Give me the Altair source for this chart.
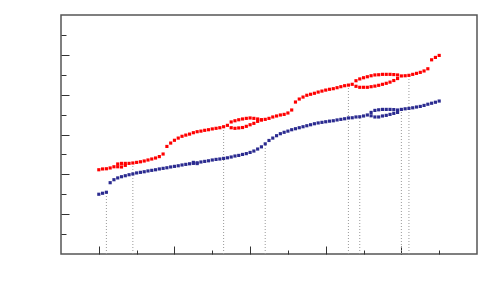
import altair as alt
import pandas as pd

# x positions (wave-vector-like axis), 1.0 .. 10.0
x_grid = [1.0, 1.1, 1.2, 1.3, 1.4, 1.5, 1.6, 1.7, 1.8, 1.9,
          2.0, 2.1, 2.2, 2.3, 2.4, 2.5, 2.6, 2.7, 2.8, 2.9,
          3.0, 3.1, 3.2, 3.3, 3.4, 3.5, 3.6, 3.7, 3.8, 3.9,
          4.0, 4.1, 4.2, 4.3, 4.4, 4.5, 4.6, 4.7, 4.8, 4.9,
          5.0, 5.1, 5.2, 5.3, 5.4, 5.5, 5.6, 5.7, 5.8, 5.9,
          6.0, 6.1, 6.2, 6.3, 6.4, 6.5, 6.6, 6.7, 6.8, 6.9,
          7.0, 7.1, 7.2, 7.3, 7.4, 7.5, 7.6, 7.7, 7.8, 7.9,
          8.0, 8.1, 8.2, 8.3, 8.4, 8.5, 8.6, 8.7, 8.8, 8.9,
          9.0, 9.1, 9.2, 9.3, 9.4, 9.5, 9.6, 9.7, 9.8, 9.9, 10.0]

red_y = [4.23, 4.27, 4.28, 4.32, 4.38, 4.52, 4.55, 4.55, 4.55, 4.57,
         4.60, 4.63, 4.67, 4.72, 4.77, 4.82, 4.89, 5.02, 5.40, 5.57,
         5.71, 5.82, 5.91, 5.97, 6.02, 6.09, 6.14, 6.17, 6.21, 6.24,
         6.28, 6.31, 6.34, 6.39, 6.46, 6.63, 6.69, 6.74, 6.78, 6.81,
         6.83, 6.81, 6.78, 6.74, 6.76, 6.81, 6.88, 6.93, 6.98, 7.01,
         7.08, 7.23, 7.63, 7.78, 7.88, 7.97, 8.02, 8.07, 8.13, 8.18,
         8.23, 8.27, 8.30, 8.35, 8.40, 8.45, 8.48, 8.52, 8.70, 8.79,
         8.85, 8.90, 8.95, 8.99, 9.00, 9.02, 9.02, 9.02, 9.01, 8.99,
         8.94, 8.95, 8.97, 9.02, 9.07, 9.12, 9.19, 9.30, 9.75, 9.87, 9.97]

red_loop_x = [1.5, 1.6, 1.7,
              4.5, 4.6, 4.7, 4.8, 4.9, 5.0, 5.1, 5.2, 5.3,
              7.8, 7.9, 8.0, 8.1, 8.2, 8.3, 8.4, 8.5, 8.6, 8.7, 8.8, 8.9]
red_loop_y = [4.38, 4.37, 4.45,
              6.34, 6.31, 6.33, 6.35, 6.41, 6.49, 6.56, 6.66, 6.73,
              8.42, 8.37, 8.37, 8.37, 8.40, 8.43, 8.47, 8.52, 8.57, 8.63, 8.71, 8.81]

blue_y = [3.00, 3.05, 3.10, 3.58, 3.73, 3.82, 3.88, 3.93, 3.98, 4.02,
          4.07, 4.10, 4.13, 4.17, 4.20, 4.23, 4.27, 4.30, 4.33, 4.37,
          4.40, 4.43, 4.47, 4.50, 4.53, 4.55, 4.58, 4.62, 4.65, 4.68,
          4.72, 4.75, 4.77, 4.80, 4.83, 4.87, 4.92, 4.95, 5.00, 5.04,
          5.10, 5.17, 5.27, 5.38, 5.53, 5.70, 5.82, 5.94, 6.04, 6.11,
          6.17, 6.24, 6.29, 6.34, 6.39, 6.44, 6.49, 6.54, 6.58, 6.61,
          6.64, 6.67, 6.69, 6.73, 6.76, 6.79, 6.83, 6.84, 6.88, 6.89,
          6.93, 6.98, 7.11, 7.21, 7.24, 7.26, 7.26, 7.26, 7.25, 7.23,
          7.26, 7.29, 7.31, 7.34, 7.38, 7.41, 7.46, 7.52, 7.57, 7.62, 7.68]

blue_loop_x = [3.5, 3.6, 8.2, 8.3, 8.4, 8.5, 8.6, 8.7, 8.8, 8.9]
blue_loop_y = [4.60, 4.54, 6.94, 6.88, 6.88, 6.93, 6.96, 7.01, 7.06, 7.11]

drop_x = [1.2, 1.9, 4.3, 5.4, 7.6, 7.9, 9.0, 9.2]
drop_top = [3.10, 4.57, 6.39, 5.53, 8.48, 6.89, 7.26, 8.97]

x_major = [1, 3, 5, 7, 9]
x_minor = [2, 4, 6, 8, 10]
y_major = [2, 4, 6, 8, 10]
y_minor = [1, 3, 5, 7, 9, 11]

W, H = 416, 239

pts = pd.DataFrame({
    "x": x_grid + red_loop_x + x_grid + blue_loop_x,
    "y": red_y + red_loop_y + blue_y + blue_loop_y,
    "s": ["red"] * (len(x_grid) + len(red_loop_x)) + ["blue"] * (len(x_grid) + len(blue_loop_x)),
})
drops = pd.DataFrame({"x": drop_x, "top": drop_top, "base": [0.0] * len(drop_x)})

xs = alt.Scale(domain=[0, 11], nice=False, zero=False)
ys = alt.Scale(domain=[0, 12], nice=False, zero=False)


def xaxis(vals, size):
    return alt.Axis(orient="top", offset=-H, values=vals, tickSize=size, labels=False,
                    domain=False, grid=False, title=None, tickColor="#333", tickWidth=1)


def yaxis(vals, size):
    return alt.Axis(orient="right", offset=-W, values=vals, tickSize=size, labels=False,
                    domain=False, grid=False, title=None, tickColor="#333", tickWidth=1)


points = alt.Chart(pts).mark_square(size=10, opacity=1).encode(
    x=alt.X("x:Q", scale=xs, axis=xaxis(x_major, 8)),
    y=alt.Y("y:Q", scale=ys, axis=yaxis(y_major, 8)),
    color=alt.Color("s:N", scale=alt.Scale(domain=["red", "blue"], range=["#ff0000", "#2b2b90"]), legend=None),
)

rules = alt.Chart(drops).mark_rule(color="#999999", strokeWidth=1, strokeDash=[1, 2]).encode(
    x=alt.X("x:Q", scale=xs, axis=xaxis(x_minor, 4)),
    y=alt.Y("base:Q", scale=ys, axis=yaxis(y_minor, 5)),
    y2="top:Q",
)

chart = alt.layer(rules, points).resolve_axis(x="independent", y="independent").properties(
    width=W, height=H,
    autosize=alt.AutoSizeParams(type="none"),
    padding={"left": 53, "top": 7, "right": 10, "bottom": 30},
).configure_view(stroke="#555555", strokeWidth=1.5)

chart.save("out.html", embed_options={"renderer": "svg", "actions": False})
